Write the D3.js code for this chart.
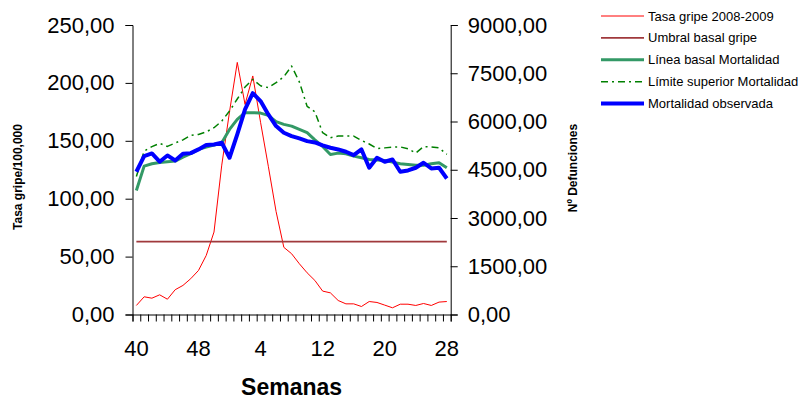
<!DOCTYPE html>
<html lang="es">
<head>
<meta charset="UTF-8">
<title>Gripe y mortalidad</title>
<script src="https://d3js.org/d3.v7.min.js"></script>
<style>
  body { margin: 0; background: #fff; }
  text { font-family: "Liberation Sans", Arial, sans-serif; fill: #000; }
</style>
</head>
<body>
<div id="chart"></div>
<script>
// weeks of the 2008-2009 season
var semanas = [40, 41, 42, 43, 44, 45, 46, 47, 48, 49, 50, 51, 52,
               1, 2, 3, 4, 5, 6, 7, 8, 9, 10, 11, 12, 13, 14, 15, 16, 17, 18, 19, 20,
               21, 22, 23, 24, 25, 26, 27, 28];
var semanasEtiqueta = [40, 48, 4, 12, 20, 28];

// left axis (rate per 100,000)
var tasaGripe = [7.8, 15.3, 14.1, 17, 13.2, 21.4, 25.1, 30.9, 38, 51, 71.2, 129, 175,
                 217.7, 181.4, 206, 166, 128, 89, 58, 52.5, 43.8, 36, 29.4, 20.2, 18.7, 12.1,
                 9.2, 9.2, 6.9, 11.2, 10.4, 8.1, 5.8, 8.9, 8.9, 7.8, 9.5, 7.8, 10.7, 11.2];
var umbralGripe = [63, 63, 63, 63, 63, 63, 63, 63, 63, 63, 63, 63, 63, 63, 63, 63, 63, 63, 63, 63, 63,
                   63, 63, 63, 63, 63, 63, 63, 63, 63, 63, 63, 63, 63, 63, 63, 63, 63, 63, 63, 63];

// right axis (deaths)
var lineaBasal = [3856, 4612, 4687, 4727, 4749, 4768, 4892, 4998, 5132, 5204, 5266, 5340, 5754,
                  6065, 6274, 6274, 6262, 6190, 5994, 5910, 5857, 5754, 5651, 5430, 5225, 4976, 5017,
                  4998, 4923, 4873, 4820, 4800, 4789, 4737, 4687, 4665, 4643, 4643, 4687, 4718, 4562];
var limiteSuperior = [4290, 5079, 5220, 5320, 5225, 5330, 5430, 5567, 5598, 5676, 5807, 6012, 6324,
                      6700, 7070, 7310, 7110, 7052, 7207, 7390, 7724, 7230, 6470, 6300, 5651, 5495, 5546,
                      5546, 5546, 5412, 5300, 5160, 5180, 5200, 5210, 5150, 5020, 5220, 5210, 5180, 4980];
var mortalidad = [4438, 4924, 5007, 4749, 4945, 4789, 4998, 5017, 5132, 5266, 5287, 5340, 4873,
                  5599, 6377, 6880, 6636, 6221, 5857, 5651, 5546, 5474, 5390, 5350, 5256, 5184, 5132,
                  5060, 4954, 5132, 4562, 4873, 4749, 4820, 4438, 4478, 4562, 4718, 4540, 4562, 4229];

var ticksIzq = [0, 50, 100, 150, 200, 250];
var ticksDer = [0, 1500, 3000, 4500, 6000, 7500, 9000];

var fmt = function(v) { return d3.format(".2f")(v).replace(".", ","); };

var W = 805, H = 401;
var plot = { left: 132.5, right: 450.7, top: 25, bottom: 314.5 };

var svg = d3.select("#chart").append("svg")
    .attr("width", W).attr("height", H);
svg.append("rect").attr("width", W).attr("height", H).attr("fill", "#fff");

var idx = d3.range(semanas.length);
var x = d3.scaleBand().domain(idx).range([plot.left, plot.right]).padding(0);
var xc = function(i) { return x(i) + x.bandwidth() / 2; };
var xEdge = d3.scaleLinear().domain([0, semanas.length]).range([plot.left, plot.right]);

var y1 = d3.scaleLinear().domain([0, 250]).range([plot.bottom, plot.top]);
var y2 = d3.scaleLinear().domain([0, 9000]).range([plot.bottom, plot.top]);

// axes
var gl = svg.append("g").attr("transform", "translate(" + plot.left + ",0)")
    .call(d3.axisLeft(y1).tickValues(ticksIzq).tickSize(7).tickPadding(11).tickFormat(fmt));
gl.selectAll("text").style("font-size", "22px");

var gr = svg.append("g").attr("transform", "translate(" + plot.right + ",0)")
    .call(d3.axisRight(y2).tickValues(ticksDer).tickSize(7).tickPadding(10).tickFormat(fmt));
gr.selectAll("text").style("font-size", "22px");

var gb = svg.append("g").attr("transform", "translate(0," + plot.bottom + ")")
    .call(d3.axisBottom(xEdge).tickValues(d3.range(semanas.length + 1)).tickSize(7).tickFormat(""));

var glab = svg.append("g").attr("transform", "translate(0," + plot.bottom + ")")
    .call(d3.axisBottom(x)
      .tickValues(idx.filter(function(i) { return semanasEtiqueta.indexOf(semanas[i]) >= 0; }))
      .tickSize(0).tickPadding(26)
      .tickFormat(function(i) { return semanas[i]; }));
glab.select(".domain").remove();
glab.selectAll("text").style("font-size", "22px");

svg.selectAll(".domain").attr("stroke", "#000");
svg.selectAll(".tick line").attr("stroke", "#000");

// titles
svg.append("text")
    .attr("x", (plot.left + plot.right) / 2).attr("y", 395)
    .attr("text-anchor", "middle")
    .style("font-size", "23px").style("font-weight", "bold")
    .text("Semanas");

svg.append("text")
    .attr("transform", "translate(22,177) rotate(-90)")
    .attr("text-anchor", "middle")
    .style("font-size", "12px").style("font-weight", "bold")
    .text("Tasa gripe/100,000");

svg.append("text")
    .attr("transform", "translate(577,168) rotate(-90)")
    .attr("text-anchor", "middle")
    .style("font-size", "12px").style("font-weight", "bold")
    .text("Nº Defunciones");

// series
var series = [
  { name: "Tasa gripe 2008-2009", data: tasaGripe, y: y1, color: "#ff0000", width: 1, dash: null },
  { name: "Umbral basal gripe", data: umbralGripe, y: y1, color: "#a0393c", width: 1.8, dash: null },
  { name: "Línea basal Mortalidad", data: lineaBasal, y: y2, color: "#339966", width: 3, dash: null },
  { name: "Límite superior Mortalidad", data: limiteSuperior, y: y2, color: "#008000", width: 1.5, dash: "7,4,2,4" },
  { name: "Mortalidad observada", data: mortalidad, y: y2, color: "#0000ff", width: 4, dash: null }
];

series.forEach(function(s) {
  var line = d3.line()
      .x(function(d, i) { return xc(i); })
      .y(function(d) { return s.y(d); });
  svg.append("path")
      .datum(s.data)
      .attr("d", line)
      .attr("fill", "none")
      .attr("stroke", s.color)
      .attr("stroke-width", s.width)
      .attr("stroke-linejoin", "round")
      .attr("stroke-dasharray", s.dash);
});

// legend
var leg = svg.append("g").attr("transform", "translate(601,16)");
series.forEach(function(s, i) {
  var g = leg.append("g").attr("transform", "translate(0," + (i * 21.9) + ")");
  g.append("line")
      .attr("x1", 0).attr("x2", 43)
      .attr("stroke", s.color)
      .attr("stroke-width", s.width)
      .attr("stroke-dasharray", s.dash);
  g.append("text")
      .attr("x", 47).attr("y", 4.5)
      .style("font-size", "13px")
      .text(s.name);
});
</script>
</body>
</html>
